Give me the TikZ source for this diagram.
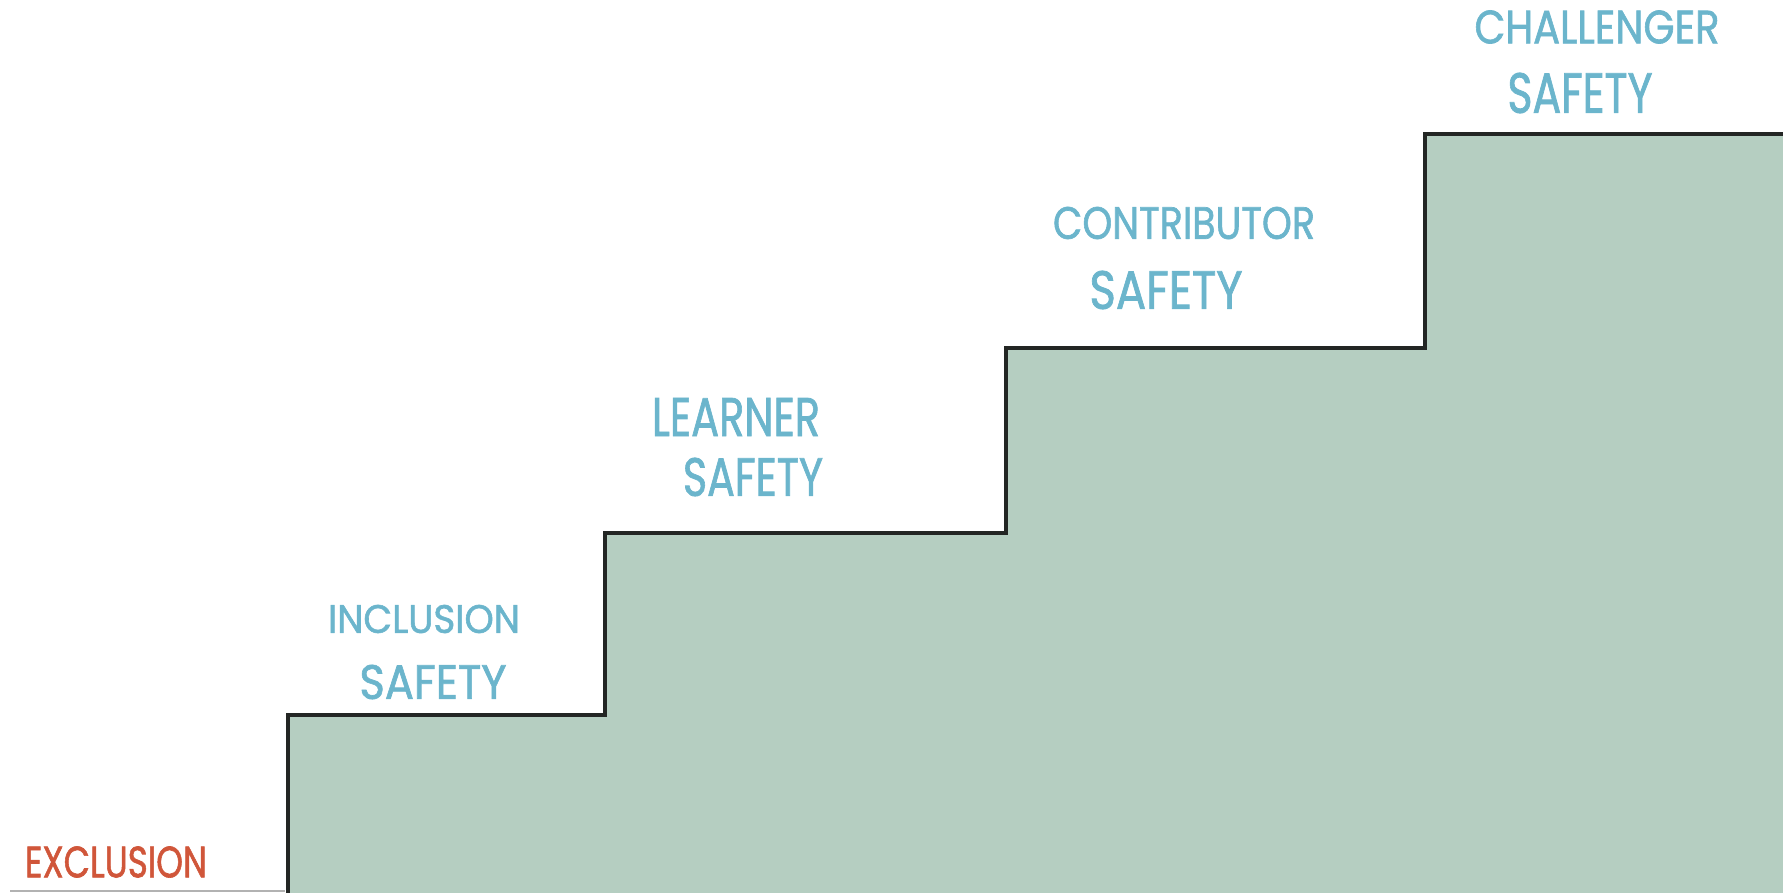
\documentclass[tikz,border=0pt]{standalone}
\usepackage{fontspec}
\setmainfont{Poppins}
\newfontfamily\handfont{Poppins}[FakeBold=1.5]
\definecolor{stepgreen}{RGB}{181,206,193}
\definecolor{labelblue}{RGB}{107,181,204}
\definecolor{exclred}{RGB}{208,86,58}
\definecolor{stairline}{RGB}{35,38,36}
\newcommand{\fitlabel}[3]{\resizebox{#1pt}{#2pt}{\handfont #3}}
\begin{document}
\begin{tikzpicture}[x=1pt,y=-1pt,
  lbl/.style={inner sep=0pt, outer sep=0pt, text=labelblue, anchor=center},
  excl/.style={inner sep=0pt, outer sep=0pt, text=exclred, anchor=center},
  stair/.style={line width=4.5pt, draw=stairline, line join=miter, line cap=butt},
  groundline/.style={line width=1.5pt, draw=black!30}]
\useasboundingbox (0,0) rectangle (1783,893);
% filled staircase
\fill[stepgreen] (288,893) -- (288,715) -- (605,715) -- (605,533) -- (1006,533) -- (1006,348) -- (1425,348) -- (1425,134) -- (1783,134) -- (1783,893) -- cycle;
% stair outline
\draw[stair] (288,895) -- (288,715) -- (605,715) -- (605,533) -- (1006,533) -- (1006,348) -- (1425,348) -- (1425,134) -- (1785,134);
% ground line under exclusion
\draw[groundline] (10,891) -- (285,891);
% labels
\node[excl] (exclusion) at (116,862) {\fitlabel{182}{31}{EXCLUSION}};
\node[lbl] (inclusion1) at (424,619) {\fitlabel{192}{28}{INCLUSION}};
\node[lbl] (inclusion2) at (433,682) {\fitlabel{147}{34}{SAFETY}};
\node[lbl] (learner1) at (736,417) {\fitlabel{168}{38}{LEARNER}};
\node[lbl] (learner2) at (753,477) {\fitlabel{140}{38}{SAFETY}};
\node[lbl] (contrib1) at (1184,223) {\fitlabel{262}{32}{CONTRIBUTOR}};
\node[lbl] (contrib2) at (1166,290) {\fitlabel{153}{38}{SAFETY}};
\node[lbl] (chall1) at (1597,27) {\fitlabel{245}{33}{CHALLENGER}};
\node[lbl] (chall2) at (1580,93) {\fitlabel{145}{40}{SAFETY}};
\end{tikzpicture}
\end{document}
